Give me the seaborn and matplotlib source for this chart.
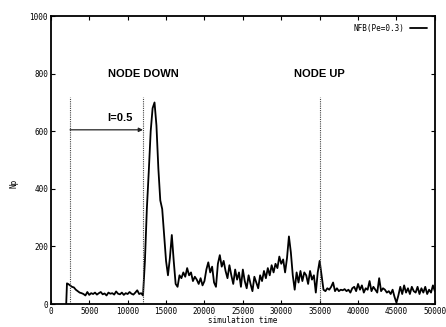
import numpy as np
import pandas as pd
import matplotlib
matplotlib.use("Agg")
import matplotlib.pyplot as plt
import seaborn as sns

# ---- data ----
sim_time = [2000, 2100] + list(range(2250, 50001, 250))
np_values = [0, 72,
    70, 65, 60, 58, 50, 45, 40, 38, 35, 30, 42, 32, 38, 35, 40, 33, 38, 42, 34, 37,
    30, 40, 36, 38, 33, 44, 36, 34, 40, 32, 38, 35, 42, 36, 33, 40, 48, 35, 38, 30,
    150, 330, 460, 600, 680, 700, 620, 470, 360, 330, 240, 150, 100, 160, 240, 150,
    70, 60, 100, 90, 110, 95, 125, 100, 110, 80, 95, 85, 70, 90, 65, 80,
    120, 145, 110, 130, 75, 60, 140, 170, 130, 150, 115, 90, 135, 100, 70, 120,
    85, 110, 60, 120, 80, 55, 100, 70, 45, 95, 75, 55, 100, 80, 115, 90,
    125, 100, 135, 110, 140, 125, 165, 140, 155, 110, 160, 235, 180, 100, 50, 110,
    75, 115, 80, 110, 100, 70, 115, 85, 100, 40, 110, 150, 100, 50, 45, 55,
    50, 60, 75, 45, 55, 45, 50, 48, 52, 45, 50, 40, 55, 60, 45, 70,
    50, 65, 40, 55, 50, 80, 45, 60, 50, 40, 90, 45, 55, 50, 40, 45,
    35, 50, 25, 5, 30, 60, 35, 65, 40, 55, 35, 60, 45, 40, 60, 35,
    55, 40, 60, 35, 50, 40, 65, 45]
n = min(len(sim_time), len(np_values))
sim_time = sim_time[:n]
np_values = np_values[:n]

event_times = [2500, 12000, 35000]
event_labels = ["NODE DOWN", "NODE UP"]
event_label_x = [12000, 35000]
interval_label = "I=0.5"
series_name = "NFB(Pe=0.3)"
x_ticks = list(range(0, 50001, 5000))
y_ticks = list(range(0, 1001, 200))

df = pd.DataFrame({"simulation time": sim_time, "Np": np_values, "series": series_name})

sns.set_style("white")
plt.rcParams.update({"text.color": "black", "axes.labelcolor": "black",
                     "xtick.color": "black", "ytick.color": "black"})
fig = plt.figure(figsize=(4.46, 3.27), dpi=100)
ax = fig.add_axes([0.114, 0.070, 0.861, 0.881])

sns.lineplot(data=df, x="simulation time", y="Np", color="black", linewidth=1.3,
             estimator=None, ax=ax, label=series_name)

for t in event_times:
    ax.plot([t, t], [0, 720], linestyle=(0, (1, 1)), color="#444444", linewidth=0.8)

ax.annotate("", xy=(12000, 605), xytext=(2500, 605),
            arrowprops=dict(arrowstyle="-|>", color="#222222", lw=0.9,
                            mutation_scale=6, shrinkA=0, shrinkB=0))
ax.text(9000, 645, interval_label, ha="center", va="center", fontsize=8,
        fontweight="bold", family="Liberation Sans", color="black")
for lbl, xl in zip(event_labels, event_label_x):
    ax.text(xl, 800, lbl, ha="center", va="center", fontsize=8,
            fontweight="bold", family="Liberation Sans", color="black")

ax.set_xlim(0, 50000)
ax.set_ylim(0, 1000)
ax.set_xticks(x_ticks)
ax.set_yticks(y_ticks)
mono = "DejaVu Sans Mono"
ax.set_xticklabels([str(v) for v in x_ticks], fontsize=5.5, family=mono)
ax.set_yticklabels([str(v) for v in y_ticks], fontsize=5.5, family=mono)
ax.tick_params(direction="in", length=3, width=0.8, top=True, right=True,
               bottom=True, left=True, pad=2, colors="black")
ax.set_xlabel("simulation time", fontsize=5.5, family=mono, labelpad=0)
ax.set_ylabel("Np", fontsize=5.5, family=mono)
ax.yaxis.set_label_coords(-0.085, 0.42)
for s in ax.spines.values():
    s.set_visible(True)
    s.set_color("black")
    s.set_linewidth(1.3)

leg = ax.legend(loc="upper right", frameon=False,
                prop={"family": mono, "size": 5.5}, handlelength=2.2,
                markerfirst=False, borderaxespad=0.6)

fig.savefig("out.png", dpi=100)
